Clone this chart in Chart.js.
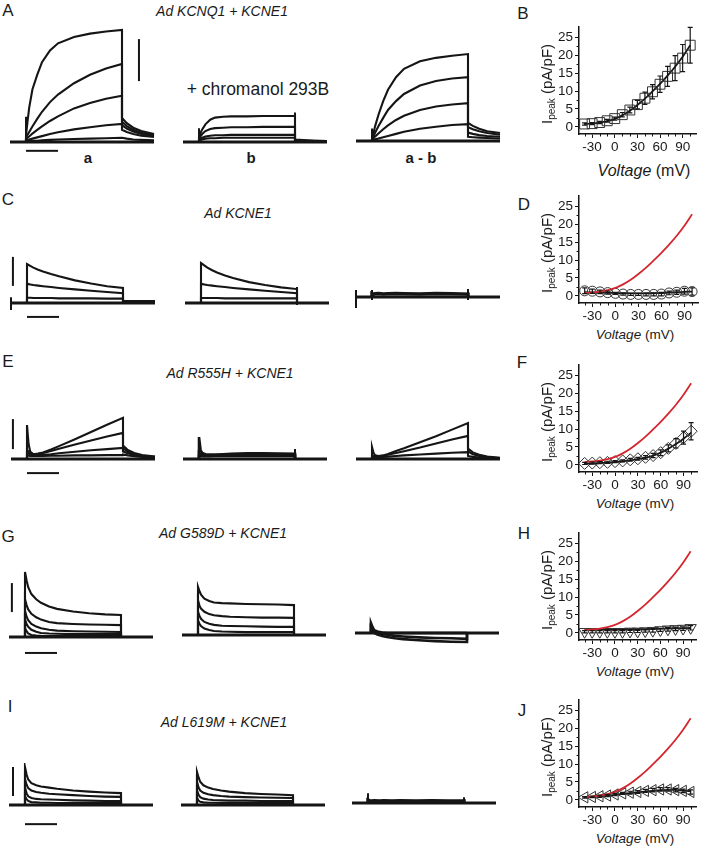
<!DOCTYPE html>
<html>
<head>
<meta charset="utf-8">
<script src="https://cdn.jsdelivr.net/npm/chart.js@4/dist/chart.umd.min.js"></script>
<style>
  body { margin: 0; background: #fff; width: 704px; height: 853px; position: relative; overflow: hidden;
         font-family: "Liberation Sans", Arial, sans-serif; color: #1a1a1a; }
  canvas { position: absolute; }
  .t { position: absolute; white-space: nowrap; transform: translate(-50%, -50%); line-height: 1; }
  .ttl { font-style: italic; font-size: 14px; }
  .let { font-size: 17px; }
  .lab { font-weight: bold; font-size: 15px; }
  .chrom { font-size: 17.5px; }
  .ylab { font-size: 15px; transform: translate(-50%, -50%) rotate(-90deg); }
  .ylab sub { font-size: 10px; vertical-align: -3px; }
  .volt { font-size: 13.5px; }
  .voltB { font-size: 16px; }
</style>
</head>
<body>
<div class="t let" style="left:8px;top:10px">A</div>
<div class="t let" style="left:8px;top:199px">C</div>
<div class="t let" style="left:8px;top:361px">E</div>
<div class="t let" style="left:8px;top:536px">G</div>
<div class="t let" style="left:10px;top:706px">I</div>
<div class="t let" style="left:523px;top:13px">B</div>
<div class="t let" style="left:524px;top:204px">D</div>
<div class="t let" style="left:522px;top:362px">F</div>
<div class="t let" style="left:524px;top:533px">H</div>
<div class="t let" style="left:522px;top:710px">J</div>

<div class="t ttl" style="left:222px;top:11px">Ad KCNQ1 + KCNE1</div>
<div class="t ttl" style="left:238px;top:213px">Ad KCNE1</div>
<div class="t ttl" style="left:230px;top:373px">Ad R555H + KCNE1</div>
<div class="t ttl" style="left:223px;top:533px">Ad G589D + KCNE1</div>
<div class="t ttl" style="left:224px;top:722px">Ad L619M + KCNE1</div>

<div class="t chrom" style="left:258px;top:90px">+ chromanol 293B</div>
<div class="t lab" style="left:88px;top:157px">a</div>
<div class="t lab" style="left:251px;top:157px">b</div>
<div class="t lab" style="left:421px;top:157px">a - b</div>

<script>
// ---- current traces (units: one vertical scale bar) ----
const PULSE_T = [0, 0.05, 0.1, 0.2, 0.35, 0.5, 0.75, 1.0, 1.5, 2.0, 2.5, 3.0];
const TAIL_T = [3.0, 3.15, 3.35, 3.6, 4.0];

const A_a_pulse = [
  [0.15, 0.5, 0.82, 1.25, 1.6, 1.9, 2.18, 2.35, 2.5, 2.58, 2.63, 2.67],
  [0.1, 0.17, 0.24, 0.37, 0.55, 0.72, 0.95, 1.13, 1.4, 1.6, 1.75, 1.86],
  [0.07, 0.1, 0.13, 0.2, 0.29, 0.37, 0.5, 0.61, 0.8, 0.93, 1.03, 1.1],
  [0.04, 0.05, 0.06, 0.08, 0.11, 0.14, 0.19, 0.23, 0.3, 0.35, 0.4, 0.43],
  [0.02, 0.02, 0.02, 0.03, 0.03, 0.04, 0.05, 0.06, 0.07, 0.08, 0.09, 0.1]];
const A_a_tail = [
  [0.57, 0.45, 0.34, 0.26, 0.19], [0.48, 0.38, 0.29, 0.22, 0.17], [0.4, 0.32, 0.25, 0.19, 0.14],
  [0.29, 0.24, 0.19, 0.15, 0.12], [0.1, 0.08, 0.06, 0.05, 0.04]];
const A_b_pulse = [
  [0.12, 0.22, 0.3, 0.42, 0.53, 0.58, 0.6, 0.61, 0.61, 0.62, 0.62, 0.62],
  [0.08, 0.14, 0.19, 0.26, 0.31, 0.33, 0.34, 0.35, 0.35, 0.36, 0.36, 0.36],
  [0.05, 0.08, 0.1, 0.13, 0.15, 0.16, 0.16, 0.17, 0.17, 0.17, 0.17, 0.17],
  [0.03, 0.05, 0.06, 0.08, 0.09, 0.09, 0.1, 0.1, 0.1, 0.1, 0.1, 0.1]];
const A_b_tail = [
  [0.06, 0.05, 0.04, 0.03, 0.02], [0.05, 0.04, 0.03, 0.03, 0.02],
  [0.04, 0.03, 0.03, 0.02, 0.02], [0.03, 0.03, 0.02, 0.02, 0.01]];
const A_ab_pulse = [
  [0.05, 0.2, 0.36, 0.62, 0.95, 1.22, 1.52, 1.72, 1.9, 1.98, 2.03, 2.07],
  [0.04, 0.12, 0.2, 0.35, 0.55, 0.74, 0.95, 1.12, 1.32, 1.43, 1.49, 1.52],
  [0.03, 0.07, 0.11, 0.18, 0.28, 0.37, 0.5, 0.6, 0.74, 0.82, 0.87, 0.9],
  [0.02, 0.03, 0.04, 0.06, 0.09, 0.12, 0.17, 0.22, 0.29, 0.34, 0.38, 0.4]];
const A_ab_tail = [
  [0.43, 0.36, 0.29, 0.23, 0.19], [0.33, 0.28, 0.23, 0.19, 0.15],
  [0.2, 0.17, 0.14, 0.12, 0.1], [0.1, 0.09, 0.08, 0.07, 0.06]];

const C_a_pulse = [
  [1.34, 1.31, 1.28, 1.22, 1.15, 1.09, 1.0, 0.92, 0.78, 0.67, 0.58, 0.52],
  [0.66, 0.65, 0.64, 0.62, 0.6, 0.58, 0.55, 0.52, 0.47, 0.42, 0.38, 0.34],
  [0.18, 0.18, 0.18, 0.17, 0.17, 0.17, 0.17, 0.16, 0.16, 0.16, 0.15, 0.15]];
const C_a_tail = [[0.07, 0.07, 0.07, 0.07, 0.07]];
const C_b_pulse = [
  [1.38, 1.34, 1.3, 1.22, 1.13, 1.05, 0.95, 0.86, 0.72, 0.62, 0.54, 0.48],
  [0.66, 0.65, 0.64, 0.62, 0.6, 0.58, 0.55, 0.52, 0.47, 0.42, 0.38, 0.34],
  [0.17, 0.17, 0.17, 0.17, 0.17, 0.17, 0.16, 0.16, 0.16, 0.16, 0.16, 0.16]];
const C_ab_pulse = [[0.12, 0.1, 0.11, 0.12, 0.1, 0.11, 0.12, 0.11, 0.1, 0.12, 0.11, 0.1]];

const E_a_pulse = [
  [1.13, 0.5, 0.25, 0.16, 0.18, 0.22, 0.32, 0.43, 0.66, 0.9, 1.14, 1.37],
  [0.3, 0.25, 0.2, 0.16, 0.17, 0.2, 0.27, 0.34, 0.48, 0.62, 0.75, 0.87],
  [0.2, 0.18, 0.15, 0.13, 0.13, 0.14, 0.16, 0.19, 0.24, 0.29, 0.33, 0.37],
  [0.12, 0.11, 0.1, 0.1, 0.1, 0.1, 0.11, 0.11, 0.12, 0.12, 0.13, 0.13]];
const E_a_tail = [
  [0.45, 0.3, 0.2, 0.13, 0.08], [0.35, 0.25, 0.17, 0.11, 0.07],
  [0.25, 0.19, 0.13, 0.09, 0.06], [0.15, 0.12, 0.09, 0.07, 0.05]];
const E_b_pulse = [
  [0.73, 0.3, 0.2, 0.16, 0.15, 0.15, 0.16, 0.17, 0.19, 0.19, 0.18, 0.17],
  [0.2, 0.15, 0.13, 0.12, 0.12, 0.12, 0.12, 0.13, 0.13, 0.13, 0.13, 0.13],
  [0.1, 0.1, 0.09, 0.09, 0.09, 0.1, 0.1, 0.1, 0.1, 0.1, 0.1, 0.1]];
const E_ab_pulse = [
  [0.4, 0.2, 0.12, 0.1, 0.12, 0.17, 0.27, 0.36, 0.56, 0.76, 0.98, 1.2],
  [0.1, 0.1, 0.1, 0.1, 0.11, 0.14, 0.2, 0.26, 0.38, 0.52, 0.65, 0.77],
  [0.05, 0.05, 0.06, 0.06, 0.07, 0.08, 0.1, 0.12, 0.15, 0.18, 0.21, 0.23]];
const E_ab_tail = [[0.35, 0.22, 0.14, 0.08, 0.04], [0.25, 0.16, 0.1, 0.06, 0.03], [0.1, 0.07, 0.05, 0.03, 0.02]];

const G_a_pulse = [
  [2.24, 1.95, 1.72, 1.48, 1.3, 1.18, 1.05, 0.97, 0.88, 0.82, 0.78, 0.76],
  [1.3, 1.1, 0.95, 0.8, 0.68, 0.6, 0.52, 0.48, 0.45, 0.43, 0.42, 0.41],
  [0.9, 0.7, 0.58, 0.45, 0.36, 0.3, 0.25, 0.22, 0.2, 0.19, 0.18, 0.17],
  [0.6, 0.45, 0.35, 0.25, 0.18, 0.14, 0.12, 0.11, 0.1, 0.1, 0.1, 0.1],
  [0.3, 0.2, 0.12, 0.07, 0.05, 0.04, 0.03, 0.03, 0.03, 0.03, 0.03, 0.03]];
const G_b_pulse = [
  [1.66, 1.5, 1.38, 1.25, 1.17, 1.12, 1.1, 1.09, 1.07, 1.06, 1.05, 1.03],
  [1.2, 1.0, 0.9, 0.8, 0.72, 0.68, 0.65, 0.63, 0.61, 0.6, 0.6, 0.59],
  [0.8, 0.65, 0.55, 0.45, 0.39, 0.35, 0.32, 0.31, 0.3, 0.29, 0.28, 0.28],
  [0.5, 0.38, 0.3, 0.22, 0.17, 0.14, 0.12, 0.11, 0.1, 0.1, 0.1, 0.1]];
const G_ab_pulse = [
  [0.34, 0.2, 0.1, 0.05, 0.02, 0, 0, 0, 0, 0, 0, 0],
  [0.2, 0.1, 0.05, 0, -0.03, -0.06, -0.1, -0.12, -0.15, -0.17, -0.18, -0.2],
  [0.15, 0.05, 0, -0.05, -0.1, -0.14, -0.18, -0.21, -0.25, -0.28, -0.3, -0.31]];

const I_a_pulse = [
  [1.31, 1.05, 0.88, 0.75, 0.68, 0.64, 0.6, 0.56, 0.5, 0.46, 0.43, 0.41],
  [0.9, 0.7, 0.58, 0.5, 0.45, 0.42, 0.39, 0.37, 0.34, 0.31, 0.29, 0.28],
  [0.6, 0.4, 0.3, 0.24, 0.21, 0.2, 0.19, 0.18, 0.16, 0.15, 0.14, 0.14],
  [0.3, 0.2, 0.14, 0.1, 0.09, 0.08, 0.08, 0.07, 0.07, 0.07, 0.07, 0.07]];
const I_b_pulse = [
  [1.14, 0.95, 0.8, 0.68, 0.6, 0.55, 0.5, 0.46, 0.41, 0.38, 0.36, 0.34],
  [0.8, 0.6, 0.5, 0.42, 0.37, 0.34, 0.31, 0.29, 0.27, 0.26, 0.25, 0.24],
  [0.5, 0.35, 0.27, 0.22, 0.19, 0.17, 0.16, 0.15, 0.15, 0.14, 0.14, 0.14],
  [0.25, 0.15, 0.11, 0.09, 0.08, 0.08, 0.07, 0.07, 0.07, 0.07, 0.07, 0.07]];
const I_ab_pulse = [[0.1, 0.08, 0.07, 0.08, 0.07, 0.08, 0.07, 0.08, 0.07, 0.08, 0.07, 0.07]];

// vertical transients [t, from, to]
const A_a_ticks = [[0, 0, 0.6]];
const A_b_ticks = [[0, 0, 0.33], [3, 0.05, 0.7]];
const A_ab_ticks = [[0, 0, 0.3]];
const C_a_ticks = [[-0.5, -0.24, 0.2]];
const C_b_ticks = [[3, -0.07, 0.55]];
const C_ab_ticks = [[-0.5, -0.38, 0.24], [0, -0.1, 0.24], [3, -0.1, 0.28]];
const E_b_ticks = [[3, 0, 0.33]];
const I_ab_ticks = [[0, 0, 0.34], [3, 0, 0.2]];

// scale bars [x0, y0, x1, y1]: 1 s and one current unit
const A_bars = [[3.53, 1.45, 3.53, 2.45], [0, -0.21, 1, -0.21]];
const C_bars = [[-0.44, 0.59, -0.44, 1.59], [0, -0.48, 1, -0.48]];
const E_bars = [[-0.44, 0.33, -0.44, 1.33], [0, -0.47, 1, -0.47]];
const G_bars = [[-0.41, 0.86, -0.41, 1.86], [0, -0.55, 1, -0.55]];
const I_bars = [[-0.375, 0.31, -0.375, 1.31], [0, -0.66, 1, -0.66]];

// ---- I-V curves ----
const VOLT = [-40, -30, -20, -10, 0, 10, 20, 30, 40, 50, 60, 70, 80, 90, 100];
const B_MEAN = [0.8, 0.9, 1.2, 1.7, 2.3, 3.4, 4.7, 6.2, 8.0, 9.8, 11.9, 14.1, 16.4, 19.2, 22.8];
const B_ERR = [0.3, 0.3, 0.3, 0.4, 0.4, 0.6, 0.8, 1.2, 1.7, 2.0, 2.3, 2.8, 3.5, 3.8, 5.0];
const B_FIT = [0.8, 0.95, 1.2, 1.6, 2.2, 3.2, 4.5, 6.1, 7.9, 9.9, 12.0, 14.3, 16.8, 19.6, 22.8];
const D_MEAN = [1.4, 1.3, 1.1, 0.9, 0.7, 0.5, 0.4, 0.4, 0.4, 0.4, 0.5, 0.8, 1.0, 1.3, 1.2];
const D_ERR = [0.8, 0.6, 0.5, 0.4, 0.3, 0.3, 0.3, 0.3, 0.4, 0.4, 0.5, 0.5, 0.6, 0.8, 1.0];
const D_FIT = [1.0, 0.95, 0.9, 0.85, 0.8, 0.75, 0.7, 0.7, 0.7, 0.75, 0.8, 0.9, 1.0, 1.1, 1.2];
const F_MEAN = [0.4, 0.5, 0.6, 0.7, 0.9, 1.1, 1.4, 1.7, 2.1, 2.6, 3.4, 4.6, 6.0, 7.6, 9.4];
const F_ERR = [0.3, 0.3, 0.3, 0.3, 0.3, 0.3, 0.4, 0.4, 0.5, 0.6, 0.8, 1.0, 1.3, 1.8, 2.4];
const F_FIT = [0.3, 0.4, 0.5, 0.6, 0.8, 1.0, 1.3, 1.6, 2.0, 2.6, 3.4, 4.5, 5.8, 7.3, 9.0];
const H_MEAN = [0.3, 0.3, 0.3, 0.3, 0.3, 0.3, 0.4, 0.4, 0.5, 0.6, 0.8, 1.0, 1.1, 1.2, 1.4];
const H_ERR = [0.3, 0.3, 0.3, 0.3, 0.3, 0.3, 0.3, 0.3, 0.3, 0.4, 0.4, 0.5, 0.5, 0.5, 0.6];
const H_FIT = [0.9, 0.9, 0.9, 0.9, 0.95, 0.95, 1.0, 1.0, 1.05, 1.1, 1.15, 1.2, 1.25, 1.3, 1.35];
const J_MEAN = [0.7, 0.8, 1.0, 1.2, 1.5, 1.8, 2.0, 2.2, 2.5, 2.7, 2.9, 2.9, 2.7, 2.5, 2.2];
const J_ERR = [0.2, 0.2, 0.3, 0.3, 0.3, 0.3, 0.4, 0.4, 0.4, 0.5, 0.5, 0.5, 0.5, 0.5, 0.6];
const J_FIT = [0.8, 0.9, 1.0, 1.2, 1.4, 1.7, 1.9, 2.1, 2.3, 2.5, 2.7, 2.8, 2.8, 2.6, 2.4];

const X_TICKS = [-30, 0, 30, 60, 90];
const X_MINOR = [-40, -20, -10, 10, 20, 40, 50, 70, 80, 100];
const Y_TICKS = [0, 5, 10, 15, 20, 25];
const Y_MINOR = [2.5, 7.5, 12.5, 17.5, 22.5];

// ---- layout ----
const SEC_PX = 32;
const ROW_BASE = [142, 303, 459, 637, 805];
const ROW_PPU = [42, 29, 30, 29, 29];
const ROW_YMAX = [2.8, 1.75, 1.5, 2.35, 1.45];
const ROW_YMIN = [-0.35, -0.6, -0.6, -0.7, -0.8];
const ONSET_X = [[26, 199, 372], [27, 201, 372], [27, 199, 372], [25, 198, 371], [25, 197, 368]];
const BASE_SHIFT = [[0, 0, -1], [0, 0, -6], [0, 0, 0], [0, -2, -4], [0, 0, -2]];
const IV_ZERO = [126, 295, 464, 632, 799];
const INK = "#151515";
const FONT = "'Liberation Sans', Arial, sans-serif";

const PANELS = [
  [{ pulse: A_a_pulse, tail: A_a_tail, ticks: A_a_ticks, bars: A_bars },
   { pulse: A_b_pulse, tail: A_b_tail, ticks: A_b_ticks },
   { pulse: A_ab_pulse, tail: A_ab_tail, ticks: A_ab_ticks }],
  [{ pulse: C_a_pulse, tail: C_a_tail, ticks: C_a_ticks, bars: C_bars },
   { pulse: C_b_pulse, ticks: C_b_ticks },
   { pulse: C_ab_pulse, ticks: C_ab_ticks, lw: 3.5 }],
  [{ pulse: E_a_pulse, tail: E_a_tail, bars: E_bars },
   { pulse: E_b_pulse, ticks: E_b_ticks, lw: 2.6 },
   { pulse: E_ab_pulse, tail: E_ab_tail }],
  [{ pulse: G_a_pulse, bars: G_bars },
   { pulse: G_b_pulse },
   { pulse: G_ab_pulse, lw: 2.6 }],
  [{ pulse: I_a_pulse, bars: I_bars },
   { pulse: I_b_pulse },
   { pulse: I_ab_pulse, ticks: I_ab_ticks, lw: 3.5 }]
];

function segment(pts, lw) {
  return { data: pts, showLine: true, borderColor: INK, borderWidth: lw, pointRadius: 0, clip: false, tension: 0 };
}

function tracePanel(row, col, spec) {
  const ppu = ROW_PPU[row];
  const zero = ROW_BASE[row] + BASE_SHIFT[row][col];
  const top = Math.round(zero - ROW_YMAX[row] * ppu);
  const h = Math.round((ROW_YMAX[row] - ROW_YMIN[row]) * ppu);
  const ymax = (zero - top) / ppu, ymin = ymax - h / ppu;
  const cv = document.createElement("canvas");
  cv.width = 152; cv.height = h;
  cv.style.left = (ONSET_X[row][col] - 20) + "px";
  cv.style.top = top + "px";
  document.body.appendChild(cv);

  const ds = [segment([{ x: -0.5, y: 0 }, { x: 4, y: 0 }], 3)];
  spec.pulse.forEach((p, i) => {
    const pts = [{ x: 0, y: 0 }, ...p.map((v, k) => ({ x: PULSE_T[k], y: v }))];
    const tl = spec.tail && spec.tail[i];
    if (tl) tl.forEach((v, k) => pts.push({ x: TAIL_T[k], y: v }));
    else pts.push({ x: 3, y: 0 });
    ds.push(segment(pts, spec.lw || 2.1));
  });
  (spec.ticks || []).forEach(([t, a, b]) => ds.push(segment([{ x: t, y: a }, { x: t, y: b }], 2)));
  (spec.bars || []).forEach(([x0, y0, x1, y1]) => ds.push(segment([{ x: x0, y: y0 }, { x: x1, y: y1 }], 2)));

  new Chart(cv, {
    type: "scatter",
    data: { datasets: ds },
    options: {
      responsive: false, animation: false, events: [],
      layout: { padding: 0 },
      plugins: { legend: { display: false }, tooltip: { enabled: false } },
      scales: {
        x: { type: "linear", display: false, min: -0.625, max: -0.625 + 152 / SEC_PX },
        y: { type: "linear", display: false, min: ymin, max: ymax }
      }
    }
  });
}

PANELS.forEach((row, r) => row.forEach((spec, c) => tracePanel(r, c, spec)));

// ---- I-V plots ----
const errorBars = {
  id: "errorBars",
  afterDatasetsDraw(chart) {
    const { ctx } = chart, y = chart.scales.y;
    chart.data.datasets.forEach((ds, i) => {
      if (!ds.errors) return;
      const meta = chart.getDatasetMeta(i);
      ctx.save();
      ctx.strokeStyle = INK; ctx.lineWidth = 1.2;
      meta.data.forEach((pt, j) => {
        const v = ds.data[j].y, e = ds.errors[j];
        const y0 = y.getPixelForValue(v - e), y1 = y.getPixelForValue(v + e);
        ctx.beginPath();
        ctx.moveTo(pt.x, y0); ctx.lineTo(pt.x, y1);
        ctx.moveTo(pt.x - 2.5, y0); ctx.lineTo(pt.x + 2.5, y0);
        ctx.moveTo(pt.x - 2.5, y1); ctx.lineTo(pt.x + 2.5, y1);
        ctx.stroke();
      });
      ctx.restore();
    });
  }
};

const minorTicks = {
  id: "minorTicks",
  afterDraw(chart) {
    const { ctx, scales: { x, y } } = chart;
    ctx.save();
    ctx.strokeStyle = INK; ctx.lineWidth = 1;
    X_MINOR.forEach(v => {
      const px = Math.round(x.getPixelForValue(v)) + 0.5;
      ctx.beginPath(); ctx.moveTo(px, y.bottom); ctx.lineTo(px, y.bottom + 2.5); ctx.stroke();
    });
    Y_MINOR.forEach(v => {
      const py = Math.round(y.getPixelForValue(v)) + 0.5;
      ctx.beginPath(); ctx.moveTo(x.left, py); ctx.lineTo(x.left - 2.5, py); ctx.stroke();
    });
    ctx.restore();
  }
};

const IV_SETS = [
  { mean: B_MEAN, err: B_ERR, fit: B_FIT, style: "rect", rot: 0, size: 7, red: false },
  { mean: D_MEAN, err: D_ERR, fit: D_FIT, style: "circle", rot: 0, size: 5, red: true },
  { mean: F_MEAN, err: F_ERR, fit: F_FIT, style: "rectRot", rot: 0, size: 6, red: true },
  { mean: H_MEAN, err: H_ERR, fit: H_FIT, style: "triangle", rot: 180, size: 6.5, red: true },
  { mean: J_MEAN, err: J_ERR, fit: J_FIT, style: "triangle", rot: 270, size: 6.5, red: true }
];

function ivPanel(r) {
  const spec = IV_SETS[r];
  const cv = document.createElement("canvas");
  cv.width = 184; cv.height = 139;
  cv.style.left = "520px";
  cv.style.top = (IV_ZERO[r] - 109) + "px";
  document.body.appendChild(cv);

  const ds = [];
  if (spec.red) ds.push({ data: VOLT.map((v, i) => ({ x: v, y: B_FIT[i] })), showLine: true, borderColor: "#d3272e",
                          borderWidth: 1.8, pointRadius: 0, tension: 0.4, clip: false });
  ds.push({ data: VOLT.map((v, i) => ({ x: v, y: spec.mean[i] })), showLine: false, errors: spec.err,
            pointStyle: spec.style, pointRotation: spec.rot, pointRadius: spec.size, pointBorderWidth: 1,
            pointBorderColor: "#333", pointBackgroundColor: "rgba(255,255,255,0)", clip: false });
  ds.push({ data: VOLT.map((v, i) => ({ x: v, y: spec.fit[i] })), showLine: true, borderColor: INK,
            borderWidth: 1.8, pointRadius: 0, tension: 0.4, clip: false });

  const tickFont = { family: FONT, size: 13.5 };
  new Chart(cv, {
    type: "scatter",
    data: { datasets: ds },
    options: {
      responsive: false, animation: false, events: [],
      layout: { padding: { top: 10, right: 4, left: 0, bottom: 0 } },
      plugins: { legend: { display: false }, tooltip: { enabled: false } },
      scales: {
        x: {
          type: "linear", min: -47.4, max: 107.7,
          afterBuildTicks: s => { s.ticks = X_TICKS.map(v => ({ value: v })); },
          afterFit: s => { s.height = 22; },
          ticks: { color: "#1a1a1a", font: tickFont, padding: 1, maxRotation: 0, autoSkip: false },
          grid: { drawOnChartArea: false, drawTicks: true, tickLength: 4, color: INK, tickWidth: 1 },
          border: { color: INK, width: 1.5 }
        },
        y: {
          type: "linear", min: -2, max: 27.86,
          afterBuildTicks: s => { s.ticks = Y_TICKS.map(v => ({ value: v })); },
          afterFit: s => { s.width = 59; },
          ticks: { color: "#1a1a1a", font: tickFont, padding: 2 },
          grid: { drawOnChartArea: false, drawTicks: true, tickLength: 4, color: INK, tickWidth: 1 },
          border: { color: INK, width: 1.5 }
        }
      }
    },
    plugins: [errorBars, minorTicks]
  });

  const yl = document.createElement("div");
  yl.className = "t ylab";
  yl.style.left = "548px"; yl.style.top = (IV_ZERO[r] - 42) + "px";
  yl.innerHTML = "I<sub>peak</sub> (pA/pF)";
  document.body.appendChild(yl);

  const xl = document.createElement("div");
  xl.className = "t " + (r === 0 ? "voltB" : "volt");
  xl.style.left = (r === 0 ? 644 : 635) + "px";
  xl.style.top = (IV_ZERO[r] + (r === 0 ? 45 : 40)) + "px";
  xl.innerHTML = "<i>Voltage</i> (mV)";
  document.body.appendChild(xl);
}

IV_SETS.forEach((s, r) => ivPanel(r));
</script>
</body>
</html>
